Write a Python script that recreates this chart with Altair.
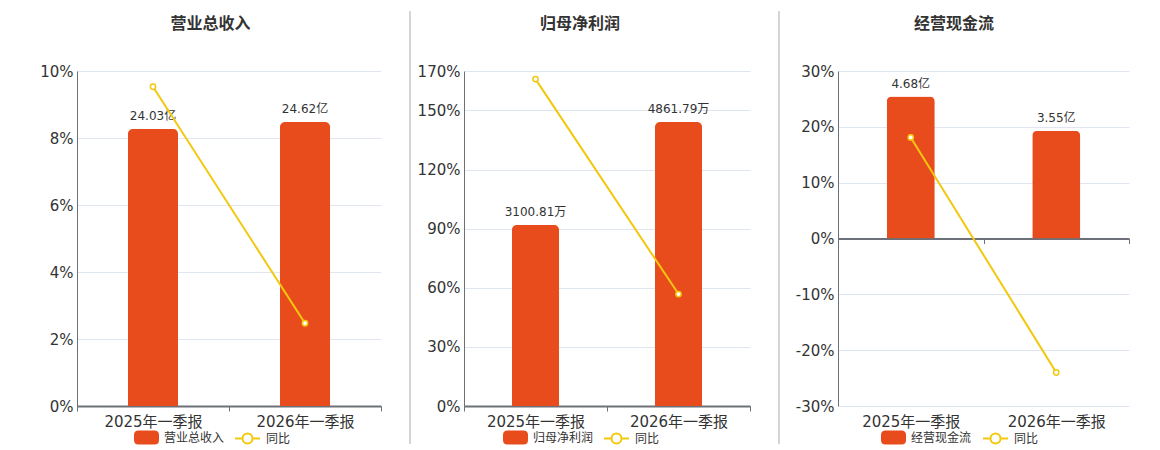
import altair as alt
import pandas as pd

categories = ["2025年一季报", "2026年一季报"]
titles = ["营业总收入", "归母净利润", "经营现金流"]
revenue = [24.03, 24.62]
revenue_labels = ["24.03亿", "24.62亿"]
profit = [3100.81, 4861.79]
profit_labels = ["3100.81万", "4861.79万"]
cashflow = [4.68, 3.55]
cashflow_labels = ["4.68亿", "3.55亿"]
revenue_yoy = [9.53, 2.47]
profit_yoy = [165.9, 56.8]
cashflow_yoy = [18.1, -24.0]
revenue_ticks = [0, 2, 4, 6, 8, 10]
profit_ticks = [0, 30, 60, 90, 120, 150, 170]
cashflow_ticks = [-30, -20, -10, 0, 10, 20, 30]
yoy_name = "同比"

FONT = "DejaVu Sans, Noto Sans CJK SC, sans-serif"
ORANGE = "#E84C1D"
YELLOW = "#F2C80F"
AXIS_C = "#6E7079"
GRID_C = "#E0E6F1"
TEXT_C = "#333333"
H = 335

BAR_PATH = ("M-0.64,-0.56L0.64,-0.56Q1,-0.56,1,-0.2L1,0.2Q1,0.56,0.64,0.56"
            "L-0.64,0.56Q-1,0.56,-1,0.2L-1,-0.2Q-1,-0.56,-0.64,-0.56Z")
LINE_PATH = "M-1,0L-0.4,0M0.4,0L1,0M0.4,0A0.4,0.4,0,1,1,-0.4,0A0.4,0.4,0,1,1,0.4,0Z"


def panel(title, values, labels, yoy, ticks, width, legend_x, legend_x2, sep_x, sep_opacity, zero_axis):
    df = pd.DataFrame({"cat": categories, "val": values, "label": labels,
                       "yoy": yoy, "series": title, "yname": yoy_name})
    top = max(abs(v) for v in values) * 1.18
    bar_domain = [-top, top] if zero_axis else [0, top]
    pct_domain = [min(ticks), max(ticks)]

    if zero_axis:
        xaxis = alt.Axis(title=None, labelAngle=0, domainColor=AXIS_C, domainWidth=2,
                         tickColor=AXIS_C, tickSize=5, tickBand="extent",
                         offset=-H / 2, labelPadding=H / 2 + 3,
                         labelFontSize=15, labelColor=TEXT_C, grid=False)
    else:
        xaxis = alt.Axis(title=None, labelAngle=0, domainColor=AXIS_C, domainWidth=2,
                         tickColor=AXIS_C, tickSize=5, tickBand="extent",
                         labelPadding=3, labelFontSize=15, labelColor=TEXT_C, grid=False)
    x = alt.X("cat:N", sort=categories, axis=xaxis,
              scale=alt.Scale(paddingInner=0, paddingOuter=0))

    base = alt.Chart(df)
    sep = alt.Chart(df.iloc[:1]).mark_rule(color="#AAAAAA", strokeWidth=1,
                                           opacity=sep_opacity).encode(
        x=alt.value(sep_x), y=alt.value(-60), y2=alt.value(373))

    bars = base.mark_bar(width=alt.RelativeBandSize(0.33),
                         cornerRadiusTopLeft=5, cornerRadiusTopRight=5).encode(
        x=x,
        y=alt.Y("val:Q", scale=alt.Scale(domain=bar_domain, nice=False, zero=True), axis=None),
        color=alt.Color("series:N",
                        scale=alt.Scale(domain=[title], range=[ORANGE]),
                        legend=alt.Legend(title=None, orient="none", direction="horizontal",
                                          legendX=legend_x, legendY=354, symbolSize=625,
                                          symbolType=BAR_PATH, symbolStrokeWidth=0,
                                          labelFontSize=12, labelColor=TEXT_C, labelFont=FONT,
                                          labelOffset=5)),
    )
    text = base.mark_text(baseline="bottom", dy=-6, fontSize=12, color=TEXT_C, font=FONT).encode(
        x=x,
        y=alt.Y("val:Q", scale=alt.Scale(domain=bar_domain, nice=False, zero=True), axis=None),
        text="label:N",
    )
    line = base.mark_line(strokeWidth=2,
                          point=alt.OverlayMarkDef(filled=True, fill="white", stroke=YELLOW,
                                                   strokeWidth=1.5, size=28)).encode(
        x=x,
        y=alt.Y("yoy:Q", scale=alt.Scale(domain=pct_domain, nice=False),
                axis=alt.Axis(title=None, orient="left", values=ticks,
                              labelExpr="datum.value + '%'", domain=True,
                              domainColor=AXIS_C, domainWidth=1, ticks=False,
                              grid=True, gridColor=GRID_C, labelFontSize=15,
                              labelColor=TEXT_C, labelPadding=4)),
        stroke=alt.Stroke("yname:N", scale=alt.Scale(domain=[yoy_name], range=[YELLOW]),
                          legend=alt.Legend(title=None, orient="none", direction="horizontal",
                                            legendX=legend_x2, legendY=354, symbolSize=625,
                                            symbolType=LINE_PATH, symbolStrokeWidth=2,
                                            symbolFillColor="white",
                                            labelFontSize=12, labelColor=TEXT_C, labelFont=FONT,
                                            labelOffset=5)),
    )
    return alt.layer(sep, bars, text, line).resolve_scale(y="independent").properties(
        width=width, height=H,
        title=alt.TitleParams(title, anchor="middle", frame="bounds", offset=-21,
                              fontSize=16, fontWeight="bold", color=TEXT_C, font=FONT),
    )


p1 = panel(titles[0], revenue, revenue_labels, revenue_yoy, revenue_ticks, 304, 57, 157, 0, 0, False)
p2 = panel(titles[1], profit, profit_labels, profit_yoy, profit_ticks, 286, 39, 139, -54, 1, False)
p3 = panel(titles[2], cashflow, cashflow_labels, cashflow_yoy, cashflow_ticks, 291, 43, 144, -59, 1, True)

chart = alt.hconcat(p1, p2, p3, spacing=27).resolve_scale(
    color="independent", stroke="independent"
).properties(
    padding={"left": 31, "top": 2, "right": 5, "bottom": 0}
).configure_view(stroke=None).configure_axis(
    labelFont=FONT, titleFont=FONT
).configure_title(font=FONT)

chart.save("out.html", embed_options={"renderer": "svg", "actions": False})
